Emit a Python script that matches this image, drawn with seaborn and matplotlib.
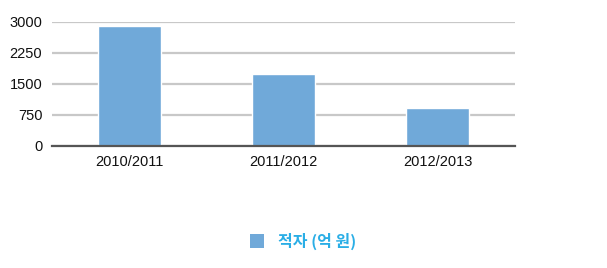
import matplotlib
matplotlib.use("Agg")
import matplotlib.pyplot as plt
import seaborn as sns
import pandas as pd
from matplotlib.patches import Patch

categories = ["2010/2011", "2011/2012", "2012/2013"]
values = [2905, 1737, 910]
series_name = "적자 (억 원)"
yticks = [0, 750, 1500, 2250, 3000]

sns.set_theme(style="white")
plt.rcParams['font.family'] = ['Liberation Sans', 'DejaVu Sans']

df = pd.DataFrame({"period": categories, "value": values})

fig = plt.figure(figsize=(6.07, 2.68), dpi=100)
ax = fig.add_axes([52/607, 1-145.5/268, (515-52)/607, (145.5-22)/268])
bar_color = "#70a9d9"
sns.barplot(data=df, x="period", y="value", color=bar_color, width=0.41, ax=ax,
            saturation=1, zorder=3)
ax.set_ylim(0, 3000)
ax.set_yticks(yticks)
ax.set_yticklabels([str(t) for t in yticks], fontsize=10.5, color="#111111")
ax.tick_params(axis='x', labelsize=10.5, colors="#111111", length=0, pad=7)
ax.tick_params(axis='y', length=0, pad=7)
ax.set_xlabel("")
ax.set_ylabel("")
ax.set_xlim(-0.5, 2.5)
ax.yaxis.grid(True, color="#c8c8c8", linewidth=1.6, zorder=0)
ax.set_axisbelow(True)
for s in ["top", "right", "left"]:
    ax.spines[s].set_visible(False)
ax.spines["bottom"].set_color("#555555")
ax.spines["bottom"].set_linewidth(1.6)
ax.spines["bottom"].set_zorder(5)

handle = Patch(facecolor=bar_color, edgecolor="none")
leg = fig.legend([handle], [series_name], loc="center", bbox_to_anchor=(303/607, 1-241/268),
                 frameon=False, handlelength=0.9, handleheight=0.9, handletextpad=0.9,
                 prop={'family': ['Noto Sans CJK KR', 'DejaVu Sans'], 'weight': 'bold', 'size': 11.5})
for t in leg.get_texts():
    t.set_color("#2aaee6")

fig.savefig("out.png", dpi=100)
